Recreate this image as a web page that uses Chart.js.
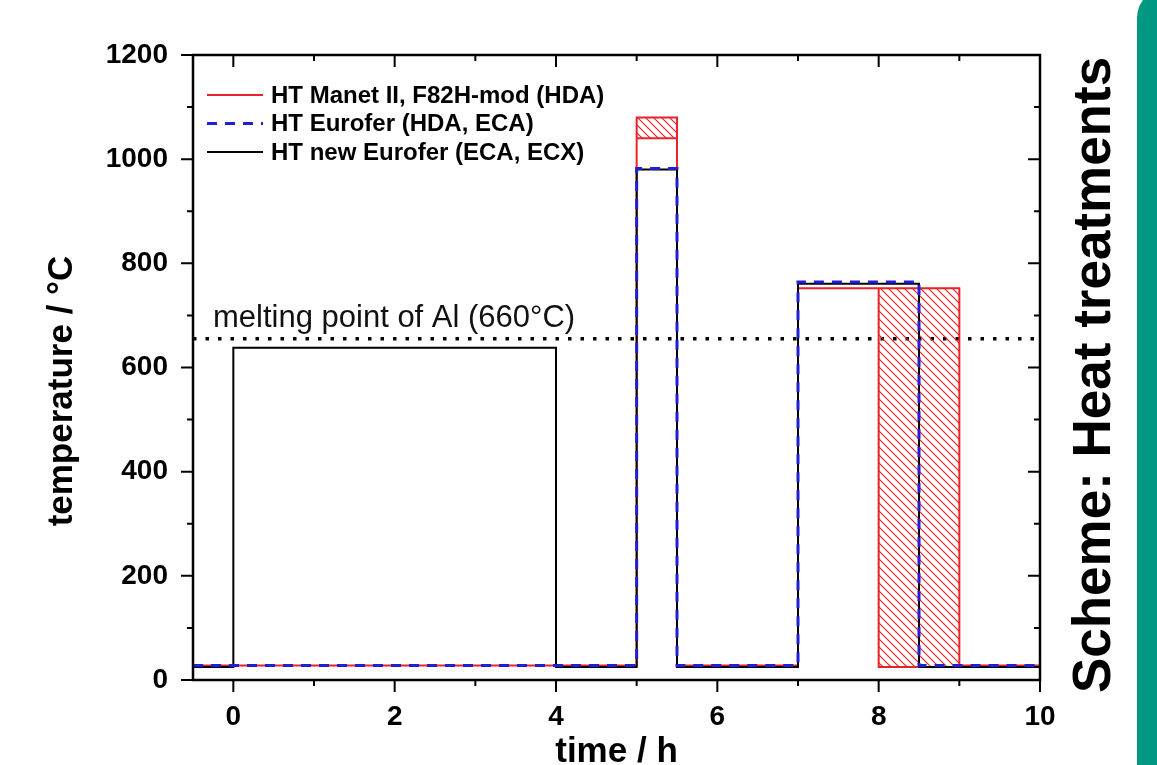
<!DOCTYPE html>
<html>
<head>
<meta charset="utf-8">
<script src="https://cdn.jsdelivr.net/npm/chart.js@4.4.1/dist/chart.umd.min.js"></script>
<style>
  html, body { margin: 0; padding: 0; background: #fff; overflow: hidden; }
  #wrap { position: relative; width: 1157px; height: 765px; }
  #bar { position: absolute; left: 1137px; top: -12px; width: 60px; height: 800px;
         background: #009882; border-top-left-radius: 30px; }
  canvas { position: absolute; left: 0; top: 0; }
</style>
</head>
<body>
<div id="wrap">
  <div id="bar"></div>
  <canvas id="chart" width="1157" height="765"></canvas>
</div>
<script>
// axis ranges and ticks
const X_MIN = -0.5, X_MAX = 10;
const Y_MIN = 0, Y_MAX = 1200;
const X_TICKS = [0, 2, 4, 6, 8, 10];
const X_MINOR = [1, 3, 5, 7, 9];
const Y_TICKS = [0, 200, 400, 600, 800, 1000, 1200];
const Y_MINOR = [100, 300, 500, 700, 900, 1100];

// HT Manet II, F82H-mod (HDA) - red
const RED_T = [-0.5, 5, 5, 5.5, 5.5, 7, 7, 9, 9, 10];
const RED_C = [28, 28, 1080, 1080, 28, 28, 752, 752, 28, 28];
// hatched ranges of the red treatment
const RED_HATCH1_T = [5, 5.5];
const RED_HATCH1_C = [1040, 1040];
const RED_HATCH1_TO = 1080;
const RED_HATCH2_T = [8, 8, 9];
const RED_HATCH2_C = [752, 25, 25];
const RED_HATCH2_TO = 752;

// HT Eurofer (HDA, ECA) - blue dashed
const BLUE_T = [-0.5, 5, 5, 5.5, 5.5, 7, 7, 8.5, 8.5, 10];
const BLUE_C = [28, 28, 982, 982, 28, 28, 764, 764, 28, 28];

// HT new Eurofer (ECA, ECX) - black
const BLACK_T = [-0.5, 0, 0, 4, 4, 5, 5, 5.5, 5.5, 7, 7, 8.5, 8.5, 10];
const BLACK_C = [25, 25, 638, 638, 25, 25, 980, 980, 25, 25, 761, 761, 25, 25];

// melting point of Al
const MELT_T = [-0.5, 10];
const MELT_C = [655, 655];

const LEGEND = [
  { label: 'HT Manet II, F82H-mod (HDA)', color: '#e8232a', dash: [], width: 2 },
  { label: 'HT Eurofer (HDA, ECA)', color: '#1f1fd6', dash: [10, 8], width: 3 },
  { label: 'HT new Eurofer (ECA, ECX)', color: '#000000', dash: [], width: 2 }
];

const FONT = '"Liberation Sans", Arial, Helvetica, sans-serif';

const pts = (t, c) => t.map((x, i) => ({ x, y: c[i] }));

function hatchPattern(color) {
  const s = 8;
  const c = document.createElement('canvas');
  c.width = s; c.height = s;
  const g = c.getContext('2d');
  g.strokeStyle = color;
  g.lineWidth = 1.2;
  g.beginPath();
  g.moveTo(-1, -1); g.lineTo(s + 1, s + 1);
  g.moveTo(-2, s - 2); g.lineTo(2, s + 2);
  g.moveTo(s - 2, -2); g.lineTo(s + 2, 2);
  g.stroke();
  return g.createPattern(c, 'repeat');
}

const hatch = hatchPattern('#e8232a');

// frame, ticks and text
const decor = {
  id: 'decor',
  afterDraw(chart) {
    const { ctx, chartArea: a, scales } = chart;
    const xs = scales.x, ys = scales.y;
    ctx.save();
    ctx.strokeStyle = '#000';
    ctx.lineWidth = 2.5;
    ctx.strokeRect(a.left, a.top, a.right - a.left, a.bottom - a.top);
    ctx.lineWidth = 2;
    ctx.beginPath();
    const tick = (vals, len) => {
      vals.forEach(v => {
        const px = xs.getPixelForValue(v);
        ctx.moveTo(px, a.bottom); ctx.lineTo(px, a.bottom + len);
        ctx.moveTo(px, a.top); ctx.lineTo(px, a.top + len);
      });
    };
    const ytick = (vals, len) => {
      vals.forEach(v => {
        const py = ys.getPixelForValue(v);
        ctx.moveTo(a.left, py); ctx.lineTo(a.left - len, py);
        ctx.moveTo(a.right, py); ctx.lineTo(a.right - len, py);
      });
    };
    tick(X_TICKS, 12); tick(X_MINOR, 6);
    ytick(Y_TICKS, 12); ytick(Y_MINOR, 6);
    ctx.stroke();

    // legend
    ctx.textBaseline = 'middle';
    ctx.textAlign = 'left';
    ctx.font = 'bold 24px ' + FONT;
    LEGEND.forEach((l, i) => {
      const y = a.top + 40 + i * 28.5;
      ctx.beginPath();
      ctx.strokeStyle = l.color;
      ctx.lineWidth = l.width;
      ctx.setLineDash(l.dash);
      ctx.moveTo(a.left + 14, y); ctx.lineTo(a.left + 70, y);
      ctx.stroke();
      ctx.setLineDash([]);
      ctx.fillStyle = '#000';
      ctx.fillText(l.label, a.left + 78, y + 1);
    });

    // melting point label
    ctx.font = '31px ' + FONT;
    ctx.textBaseline = 'alphabetic';
    ctx.fillStyle = '#111';
    ctx.fillText('melting point of Al (660°C)', a.left + 20, ys.getPixelForValue(MELT_C[0]) - 12);

    // axis titles
    ctx.fillStyle = '#000';
    ctx.font = 'bold 35px ' + FONT;
    ctx.textAlign = 'center';
    ctx.textBaseline = 'middle';
    ctx.fillText('time / h', (a.left + a.right) / 2, 752);
    ctx.save();
    ctx.translate(62, 391);
    ctx.rotate(-Math.PI / 2);
    ctx.fillText('temperature / °C', 0, 0);
    ctx.restore();

    // side title
    ctx.save();
    ctx.translate(1110, 375);
    ctx.rotate(-Math.PI / 2);
    ctx.textBaseline = 'alphabetic';
    ctx.font = 'bold 53px ' + FONT;
    ctx.fillText('Scheme: Heat treatments', 0, 0);
    ctx.restore();
    ctx.restore();
  }
};

new Chart(document.getElementById('chart'), {
  type: 'line',
  data: {
    datasets: [
      { data: pts(BLUE_T, BLUE_C), borderColor: '#1f1fd6', borderWidth: 3, borderDash: [10, 8], fill: false },
      { data: pts(BLACK_T, BLACK_C), borderColor: '#000', borderWidth: 2, fill: false },
      { data: pts(RED_T, RED_C), borderColor: '#e8232a', borderWidth: 2, fill: false },
      { data: pts(RED_HATCH1_T, RED_HATCH1_C), borderColor: '#e8232a', borderWidth: 2,
        backgroundColor: hatch, fill: { value: RED_HATCH1_TO } },
      { data: pts(RED_HATCH2_T, RED_HATCH2_C), borderColor: '#e8232a', borderWidth: 2,
        backgroundColor: hatch, fill: { value: RED_HATCH2_TO } },
      { data: pts(MELT_T, MELT_C), borderColor: '#000', borderWidth: 3.5, borderDash: [3.5, 9],
        borderCapStyle: 'butt', fill: false }
    ]
  },
  options: {
    responsive: false,
    animation: false,
    events: [],
    elements: { point: { radius: 0 }, line: { tension: 0 } },
    layout: { padding: { top: 55, right: 117, left: 0, bottom: 0 } },
    plugins: { legend: { display: false }, tooltip: { enabled: false } },
    scales: {
      x: {
        type: 'linear', min: X_MIN, max: X_MAX,
        grid: { display: false }, border: { display: false },
        afterBuildTicks: s => { s.ticks = X_TICKS.map(v => ({ value: v })); },
        afterFit: s => { s.height = 85; },
        ticks: { color: '#000', padding: 12, callback: v => String(v),
                 font: { family: FONT, size: 28, weight: 'bold' } }
      },
      y: {
        type: 'linear', min: Y_MIN, max: Y_MAX,
        grid: { display: false }, border: { display: false },
        afterBuildTicks: s => { s.ticks = Y_TICKS.map(v => ({ value: v })); },
        afterFit: s => { s.width = 193; },
        ticks: { color: '#000', padding: 17, callback: v => String(v),
                 font: { family: FONT, size: 28, weight: 'bold' } }
      }
    }
  },
  plugins: [decor]
});
</script>
</body>
</html>
